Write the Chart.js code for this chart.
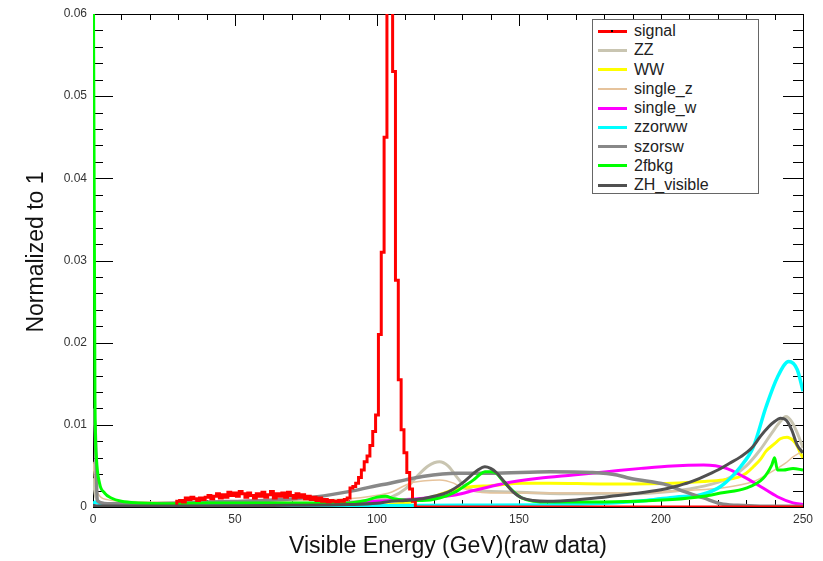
<!DOCTYPE html>
<html>
<head>
<meta charset="utf-8">
<script src="https://cdn.jsdelivr.net/npm/chart.js@4"></script>
<style>
  html, body { margin: 0; padding: 0; background: #fff; }
  #wrap { position: relative; width: 823px; height: 561px; }
  #legend { position: absolute; left: 592px; top: 19px; width: 167px; height: 175px;
    border: 1px solid #666; background: #fff; box-sizing: border-box;
    font-family: "Liberation Sans", Arial, sans-serif; font-size: 16px; color: #222; }
  .sw { position: absolute; left: 5px; width: 29px; }
  .lb { position: absolute; left: 41px; line-height: 19px; white-space: nowrap; }
  .dot { position: absolute; width: 2px; height: 2px; background: #000; }
</style>
</head>
<body>
<div id="wrap">
  <canvas id="c" width="823" height="561"></canvas>
  <div id="legend"></div>
</div>
<script>
// Axis ranges and ticks
const xTickValues = [0, 50, 100, 150, 200, 250];
const xTickLabels = ['0', '50', '100', '150', '200', '250'];
const yTickValues = [0, 0.01, 0.02, 0.03, 0.04, 0.05, 0.06];
const yTickLabels = ['0', '0.01', '0.02', '0.03', '0.04', '0.05', '0.06'];

// signal histogram: 1 GeV bins, first bin starts at 29.5 GeV
const signalFirstEdge = 29.5;
const signalBinWidth = 1;
const signalValues = [
  0.0007, 0.0008, 0.0006, 0.0011, 0.0009, 0.0012, 0.0010, 0.0008, 0.0011, 0.0009, 0.0012,
  0.0014, 0.0010, 0.0013, 0.0016, 0.0011, 0.0015, 0.0012, 0.0018, 0.0014, 0.0017,
  0.0013, 0.0019, 0.0016, 0.0012, 0.0017, 0.0014, 0.0011, 0.0016, 0.0013, 0.0018,
  0.0012, 0.0015, 0.0019, 0.0011, 0.0016, 0.0013, 0.0017, 0.0012, 0.0018, 0.0014,
  0.0011, 0.0016, 0.0012, 0.0015, 0.0010, 0.0013, 0.0009, 0.0012, 0.0008, 0.0011,
  0.0007, 0.0009, 0.0006, 0.0008, 0.0007, 0.0006, 0.0008, 0.0007, 0.0009, 0.0011,
  0.0023, 0.0025, 0.0029, 0.0036, 0.0045, 0.0055, 0.0062, 0.0075, 0.0092, 0.0112,
  0.021, 0.031, 0.045, 0.075, 0.075, 0.053, 0.0276, 0.0155, 0.0094, 0.0066, 0.0042, 0.0022, 0.0007,
  0
];

// ZZ
const zzE = [0, 1, 3, 10, 30, 60, 90, 100, 105, 110, 114, 118, 122, 125, 128, 131, 134, 140, 150, 170, 190, 200, 210, 220, 225, 230, 235, 239, 242, 244, 246, 248, 250];
const zzV = [0.0035, 0.0012, 0.0005, 0.0003, 0.0003, 0.0004, 0.0006, 0.0009, 0.0012, 0.0022, 0.0037, 0.0050, 0.0055, 0.0050, 0.0037, 0.0025, 0.0020, 0.0019, 0.0018, 0.0016, 0.0016, 0.0018, 0.0022, 0.0030, 0.0037, 0.0050, 0.0070, 0.0090, 0.0104, 0.0110, 0.0104, 0.0090, 0.0072];

// WW
const wwE = [0, 50, 95, 105, 112, 120, 128, 134, 140, 151, 161, 180, 204, 215, 222, 227, 230, 232.5, 235, 237, 240, 242, 244.4, 246.5, 248, 249, 250];
const wwV = [0, 0, 0.0001, 0.0003, 0.0006, 0.0013, 0.0022, 0.0025, 0.0026, 0.0029, 0.0029, 0.0028, 0.0029, 0.0031, 0.0033, 0.0036, 0.0041, 0.0049, 0.0058, 0.0068, 0.0077, 0.0083, 0.0085, 0.0081, 0.0074, 0.0066, 0.0060];

// single_z
const szE = [0, 0.7, 2, 5, 10, 30, 60, 90, 98, 105, 111.6, 117, 122, 127, 130, 134, 140, 160, 190, 203, 221, 232.5, 238, 243.7, 246.5, 250];
const szV = [0.0055, 0.0030, 0.0015, 0.0009, 0.0007, 0.0006, 0.0007, 0.0010, 0.0013, 0.0018, 0.0029, 0.0032, 0.0033, 0.0029, 0.0023, 0.0019, 0.0017, 0.0017, 0.0017, 0.0019, 0.0023, 0.0031, 0.0041, 0.0053, 0.0061, 0.0068];

// single_w
const swE = [0, 20, 50, 80, 90, 100, 110, 120, 128, 134, 140, 145, 157, 169, 181, 193, 204, 215, 223, 229, 235, 241, 246.5, 250];
const swV = [0.0001, 0.0001, 0.00015, 0.0003, 0.0005, 0.0007, 0.0009, 0.0012, 0.0015, 0.0020, 0.0025, 0.0029, 0.0035, 0.0039, 0.0043, 0.0047, 0.0050, 0.0051, 0.0047, 0.0037, 0.0025, 0.00125, 0.0005, 0.0003];

// zzorww
const zwE = [0, 1, 3, 10, 50, 100, 130, 160, 180, 195, 205, 214, 221, 228, 232.5, 237, 241, 245, 248, 250];
const zwV = [0.0004, 0.0006, 0.0003, 0.0002, 0.0001, 0.00015, 0.0002, 0.00025, 0.00045, 0.0008, 0.0012, 0.0015, 0.0025, 0.0049, 0.0073, 0.0122, 0.0158, 0.0177, 0.0167, 0.0141];

// szorsw
const sswE = [0, 0.8, 1.5, 5, 20, 40, 60, 79, 90.5, 98.6, 104.6, 110, 116, 128, 140, 161, 175, 184.5, 189, 196, 202, 208, 215, 221, 227, 235, 250];
const sswV = [0.012, 0.009, 0.0008, 0.0004, 0.0004, 0.0006, 0.0008, 0.00125, 0.0019, 0.0025, 0.0029, 0.0033, 0.0037, 0.0041, 0.0041, 0.0043, 0.0042, 0.0039, 0.0035, 0.0031, 0.0027, 0.0019, 0.0011, 0.0004, 0.0002, 0.0001, 0.0001];

// 2fbkg
const fbE = [0, 0.7, 1.2, 2.3, 4.1, 6.4, 10, 16, 27, 40, 55, 70, 90, 96, 100, 103, 106, 110, 116, 122, 128, 131, 134, 136, 138, 140, 142, 144.5, 148, 151, 155, 161, 180, 204, 215, 221, 230, 236, 239, 240, 241, 243, 246.5, 250];
const fbV = [0.08, 0.013, 0.006, 0.0029, 0.0017, 0.0011, 0.0007, 0.0005, 0.0004, 0.0005, 0.0005, 0.0005, 0.0005, 0.0008, 0.0012, 0.0013, 0.0010, 0.00085, 0.0008, 0.0011, 0.0019, 0.0026, 0.0033, 0.0039, 0.0043, 0.0043, 0.0041, 0.0031, 0.0019, 0.0011, 0.0007, 0.0006, 0.0006, 0.0009, 0.0013, 0.0017, 0.0023, 0.0035, 0.0051, 0.0060, 0.0045, 0.0045, 0.0047, 0.0045];

// ZH_visible
const zhE = [0, 2, 10, 30, 50, 70, 90, 100, 105, 110, 116, 120, 125, 130, 133, 135.5, 138, 140, 142, 145, 148, 151, 155, 160, 170, 180, 190, 200, 205, 210, 215, 220, 224, 228, 232, 235, 238, 240, 242, 244, 246, 248, 250];
const zhV = [0.0002, 0.00012, 0.00012, 0.00012, 0.00015, 0.0002, 0.0003, 0.00045, 0.0007, 0.0008, 0.0010, 0.0013, 0.0018, 0.0029, 0.0038, 0.0045, 0.0049, 0.0047, 0.0042, 0.0030, 0.0018, 0.0011, 0.0008, 0.0007, 0.00085, 0.0012, 0.0016, 0.0021, 0.0025, 0.0030, 0.0037, 0.0045, 0.0053, 0.0061, 0.0072, 0.0086, 0.0098, 0.0104, 0.0108, 0.0106, 0.0094, 0.0075, 0.0066];

const FONT = '"Liberation Sans", Arial, sans-serif';

function pts(xs, ys) { return xs.map((x, i) => ({ x, y: ys[i] })); }

function signalPoints() {
  const p = [{ x: 0, y: 0 }];
  signalValues.forEach((v, i) => p.push({ x: signalFirstEdge + i * signalBinWidth, y: v }));
  p.push({ x: 250, y: 0 });
  return p;
}

// legend order (as in the picture)
const series = [
  { name: 'signal',     color: '#ff0000', width: 3,   data: signalPoints(), stepped: true },
  { name: 'ZZ',         color: '#c9c5b1', width: 3,   data: pts(zzE, zzV) },
  { name: 'WW',         color: '#ffff00', width: 3,   data: pts(wwE, wwV) },
  { name: 'single_z',   color: '#e6c39c', width: 1.5, data: pts(szE, szV) },
  { name: 'single_w',   color: '#ff00ff', width: 3,   data: pts(swE, swV) },
  { name: 'zzorww',     color: '#00ffff', width: 3.5, data: pts(zwE, zwV) },
  { name: 'szorsw',     color: '#888888', width: 3.5, data: pts(sswE, sswV) },
  { name: '2fbkg',      color: '#00ff00', width: 3,   data: pts(fbE, fbV) },
  { name: 'ZH_visible', color: '#505050', width: 3,   data: pts(zhE, zhV) }
];
// drawing order: lower number is drawn on top
const drawOrder = { ZH_visible: 0, signal: 1, '2fbkg': 2, szorsw: 3, zzorww: 4, single_w: 5, single_z: 6, WW: 7, ZZ: 8 };

const datasets = series.map(s => ({
  label: s.name,
  data: s.data,
  borderColor: s.color,
  backgroundColor: s.color,
  borderWidth: s.width,
  pointRadius: 0,
  fill: false,
  stepped: s.stepped || false,
  cubicInterpolationMode: s.stepped ? 'default' : 'monotone',
  order: drawOrder[s.name]
}));

// frame, inward ticks and axis titles in ROOT style
const rootFrame = {
  id: 'rootFrame',
  beforeDatasetsDraw(chart) {
    const { ctx, chartArea: a, scales: { x, y } } = chart;
    ctx.save();
    ctx.strokeStyle = '#000';
    ctx.lineWidth = 1;
    ctx.beginPath();
    for (let v = 0; v <= 250 + 1e-9; v += 10) {
      const px = Math.round(x.getPixelForValue(v)) + 0.5;
      const major = v % 50 === 0;
      ctx.moveTo(px, a.bottom); ctx.lineTo(px, a.bottom - 7);
      ctx.moveTo(px, a.top); ctx.lineTo(px, a.top + (major ? 12 : 6));
    }
    for (let k = 0; k <= 30; k++) {
      const v = k * 0.002;
      const py = Math.round(y.getPixelForValue(v)) + 0.5;
      const major = k % 5 === 0;
      ctx.moveTo(a.left, py); ctx.lineTo(a.left + (major ? 20 : 10), py);
      ctx.moveTo(a.right, py); ctx.lineTo(a.right - (major ? 20 : 10), py);
    }
    ctx.stroke();
    ctx.strokeRect(Math.round(a.left) + 0.5, Math.round(a.top) + 0.5,
      Math.round(a.right - a.left), Math.round(a.bottom - a.top));
    ctx.restore();
  },
  afterDraw(chart) {
    const { ctx, chartArea: a } = chart;
    ctx.save();
    ctx.fillStyle = '#111';
    ctx.font = '23px ' + FONT;
    ctx.textAlign = 'center';
    ctx.textBaseline = 'middle';
    ctx.fillText('Visible Energy (GeV)(raw data)', (a.left + a.right) / 2, 547);
    ctx.translate(37, 252);
    ctx.rotate(-Math.PI / 2);
    ctx.fillText('Normalized to 1', 0, 0);
    ctx.restore();
  }
};

new Chart(document.getElementById('c'), {
  type: 'line',
  data: { datasets },
  plugins: [rootFrame],
  options: {
    responsive: false,
    animation: false,
    layout: { padding: { top: 14, right: 20, left: 0, bottom: 0 } },
    plugins: { legend: { display: false }, tooltip: { enabled: false } },
    scales: {
      x: {
        type: 'linear', min: 0, max: 250,
        grid: { display: false, drawTicks: false },
        border: { display: false },
        afterBuildTicks: s => { s.ticks = xTickValues.map(v => ({ value: v })); },
        ticks: { padding: 5, maxRotation: 0, font: { family: FONT, size: 12 }, color: '#333',
          callback: (v, i) => xTickLabels[i] },
        afterFit: s => { s.height = 54; }
      },
      y: {
        type: 'linear', min: 0, max: 0.06,
        grid: { display: false, drawTicks: false },
        border: { display: false },
        afterBuildTicks: s => { s.ticks = yTickValues.map(v => ({ value: v })); },
        ticks: { padding: 6, font: { family: FONT, size: 12 }, color: '#333',
          callback: (v, i) => yTickLabels[i] },
        afterFit: s => { s.width = 93; }
      }
    }
  }
});

// HTML legend inside the frame
const leg = document.getElementById('legend');
series.forEach((s, i) => {
  const c = 11 + i * 19.25;
  const sw = document.createElement('div');
  sw.className = 'sw';
  sw.style.top = (c - s.width / 2) + 'px';
  sw.style.height = s.width + 'px';
  sw.style.background = s.color;
  leg.appendChild(sw);
  if (s.name === 'signal') {
    const d = document.createElement('div');
    d.className = 'dot';
    d.style.top = (c - 1) + 'px';
    d.style.left = '18px';
    leg.appendChild(d);
  }
  const lb = document.createElement('div');
  lb.className = 'lb';
  lb.style.top = (c - 10) + 'px';
  lb.textContent = s.name;
  leg.appendChild(lb);
});
</script>
</body>
</html>
